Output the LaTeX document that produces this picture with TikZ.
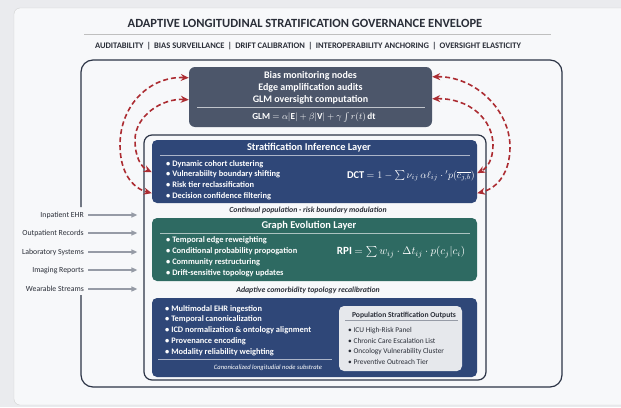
\documentclass[tikz,border=0pt]{standalone}
\usepackage{amsmath}
\usepackage{fontspec}
\setmainfont{Carlito}
\usetikzlibrary{arrows.meta,positioning}
\definecolor{govslate}{RGB}{76,86,106}
\definecolor{govnavy}{RGB}{47,71,120}
\definecolor{govteal}{RGB}{46,106,98}
\definecolor{govframe}{RGB}{44,52,70}
\definecolor{govred}{RGB}{172,44,50}
\definecolor{govgray}{RGB}{150,155,166}
\definecolor{govpanel}{RGB}{230,232,236}
\definecolor{govink}{RGB}{42,46,56}
\definecolor{govpaper}{RGB}{247,248,250}
\definecolor{govback}{RGB}{234,235,238}

\begin{document}
\begin{tikzpicture}[x=1pt, y=-1pt,
		layer/.style={rounded corners=5pt, minimum width=325pt, inner sep=0pt},
		head/.style={text=white, font=\fontsize{10.4}{12}\selectfont\bfseries, anchor=base, inner sep=0pt},
		item/.style={text=white, font=\fontsize{8.4}{10}\selectfont\bfseries, anchor=base west, inner sep=0pt},
		caption/.style={text=govink, font=\fontsize{7.8}{9}\selectfont\bfseries\itshape, anchor=base, inner sep=0pt},
		formula/.style={text=white, font=\fontsize{10.4}{12}\selectfont, inner sep=0pt},
		srclabel/.style={text=govink, font=\fontsize{7.8}{9}\selectfont, anchor=east, inner sep=0pt},
		feed/.style={-{Triangle[length=6pt,width=5pt]}, govgray, line width=1.4pt, shorten <=4pt, shorten >=6pt},
		loop/.style={{Stealth[length=8pt,width=7pt]}-{Stealth[length=8pt,width=7pt]}, govred, line width=1.6pt, dash pattern=on 5pt off 3pt},
		frame/.style={draw=govframe, line width=1.2pt}]
		\useasboundingbox (0,0) rectangle (621,407);
		\clip (0,0) rectangle (621,407);
		\fill[govback] (0,0) rectangle (621,407);
		\draw[fill=govpaper, draw=black!18, rounded corners=6pt] (14,8) rectangle (660,405);
		
		% Header
		\node[text=govink, font=\fontsize{12.5}{14}\selectfont\bfseries, anchor=base] (title) at (305,27) {ADAPTIVE LONGITUDINAL STRATIFICATION GOVERNANCE ENVELOPE};
		\draw[black!25, line width=0.8pt] (84,34) -- (551,34);
		\node[text=govink, font=\fontsize{8.5}{10}\selectfont\bfseries, anchor=base] (subtitle) at (308,48) {AUDITABILITY \,|\, BIAS SURVEILLANCE \,|\, DRIFT CALIBRATION \,|\, INTEROPERABILITY ANCHORING \,|\, OVERSIGHT ELASTICITY};
		
		% Envelope frame, open where the sources come in
		\draw[frame, rounded corners=12pt] (81,207) -- (81,60) -- (562,60) -- (562,387) -- (81,387) -- (81,295);
		
		% Oversight block
		\node[draw=none, fill=govslate, rounded corners=6pt, minimum width=243pt, minimum height=60pt] (mon) at (310.5,97) {};
		\node[head, font=\fontsize{10}{12}\selectfont\bfseries] (mon-1) at (310.5,78.5) {Bias monitoring nodes};
		\node[head, font=\fontsize{10}{12}\selectfont\bfseries] (mon-2) at (310.5,90.5) {Edge amplification audits};
		\node[head, font=\fontsize{10}{12}\selectfont\bfseries] (mon-3) at (310.5,102.5) {GLM oversight computation};
		\draw[white!65!govslate, line width=0.6pt] (197,107.5) -- (425,107.5);
		\node[formula, font=\fontsize{9.2}{11}\selectfont] (glm) at (314,117.5) {{\bfseries GLM} $= \alpha|\mathbf{E}| + \beta|\mathbf{V}| + \gamma\int r(t)\,\mathbf{dt}$};
		
		% Layer stack
		\node[frame, rounded corners=8pt, minimum width=342pt, minimum height=245pt] (stack) at (315,257.5) {};
		
		\node[layer, fill=govnavy, minimum height=63pt] (strat) at (314.5,171.5) {};
		\node[head] (strat-head) at (309,150.5) {Stratification Inference Layer};
		\draw[white!60!govnavy, line width=0.6pt] (160,155.5) -- (470,155.5);
		\foreach \txt [count=\i] in {Dynamic cohort clustering, Vulnerabiilty boundary shifting, Risk tier reclassification, Decision confidence filtering}
			\node[item] (sil-\i) at (166,{166+10.8*(\i-1)}) {\textbullet\ \txt};
		\node[formula] (dct) at (411,176) {{\bfseries DCT} $= 1 - \sum \nu_{ij}\,\alpha\ell_{ij}\cdot{}'p(\overline{c_{j,b}})$};
		\node[caption] (strat-cap) at (308,212.5) {Continual population · risk boundary modulation};
		
		\node[layer, fill=govteal, minimum height=63pt] (graph) at (314.5,249.5) {};
		\node[head] (graph-head) at (309,228.5) {Graph Evolution Layer};
		\draw[white!60!govteal, line width=0.6pt] (160,233) -- (470,233);
		\foreach \txt [count=\i] in {Temporal edge reweighting, Conditional probability propogation, Community restructuring, Drift-sensitive topology updates}
			\node[item] (gel-\i) at (166,{242+11.2*(\i-1)}) {\textbullet\ \txt};
		\node[formula, font=\fontsize{11}{13}\selectfont] (rpi) at (401,252) {{\bfseries RPI} $= \sum w_{ij}\cdot\Delta t_{ij}\cdot p(c_j|c_i)$};
		\node[caption] (graph-cap) at (308,292.5) {Adaptive comorbidity topology recalibration};
		
		\node[layer, fill=govnavy, minimum height=79pt] (base) at (314.5,337.5) {};
		\foreach \txt [count=\i] in {Multimodal EHR ingestion, Temporal canonicalization, ICD normalization \& ontology alignment, Provenance encoding, Modality reliability weighting}
			\node[item] (sub-\i) at (165,{311+10.8*(\i-1)}) {\textbullet\ \txt};
		\draw[white!60!govnavy, line width=0.6pt] (158,359) -- (332,359);
		\node[caption, text=white, font=\fontsize{6.6}{8}\selectfont\itshape] (base-cap) at (268,369.5) {Canonicalized longitudial node substrate};
		
		\node[fill=govpanel, rounded corners=5pt, minimum width=123pt, minimum height=65pt, inner sep=0pt] (out) at (400.5,338.5) {};
		\node[head, text=govink, font=\fontsize{7.6}{9}\selectfont\bfseries] (out-head) at (404,317) {Population Stratification Outputs};
		\draw[govgray, line width=0.6pt] (345,320.5) -- (458,320.5);
		\foreach \txt [count=\i] in {ICU High-Risk Panel, Chronic Care Escalation List, Oncology Vulnerability Cluster, Preventive Outreach Tier}
			\node[item, text=govink, font=\fontsize{7.4}{9}\selectfont] (out-\i) at (348,{332.5+10.7*(\i-1)}) {\textbullet\ \txt};
		
		% Data sources
		\foreach \src/\yy [count=\i] in {Inpatient EHR/215, Outpatient Records/233, Laboratory Systems/252, Imaging Reports/270, Wearable Streams/289}
		{
			\node[srclabel] (src-\i) at (84,\yy) {\src};
			\draw[feed] (src-\i.east) -- (src-\i.east -| stack.west);
		}
		
		% Feedback loops between oversight and inference
		\draw[loop] ([yshift=-11pt]mon.north west) .. controls (150,76) and (120,105) .. (120,145) .. controls (120,172) and (132,188) .. ([yshift=10pt]strat.south west);
		\draw[loop] ([yshift=-33pt]mon.north west) .. controls (162,98) and (135,116) .. (135,140) .. controls (135,157) and (141,167) .. ([yshift=31pt]strat.south west);
		\draw[loop] ([yshift=-10pt]mon.north east) .. controls (475,76) and (510,110) .. (510,147) .. controls (510,172) and (498,188) .. ([yshift=10pt]strat.south east);
		\draw[loop] ([yshift=-32pt]mon.north east) .. controls (470,98) and (493,120) .. (493,145) .. controls (493,160) and (487,168) .. ([yshift=30pt]strat.south east);
	\end{tikzpicture}
\end{document}
